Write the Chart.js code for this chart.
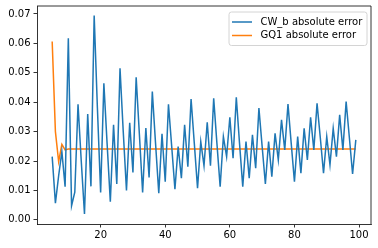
<!DOCTYPE html>
<html>
<head>
<meta charset="utf-8">
<script src="https://cdn.jsdelivr.net/npm/chart.js@4"></script>
<style>
html,body{margin:0;padding:0;background:#fff;}
#wrap{width:378px;height:248px;position:relative;}
</style>
</head>
<body>
<div id="wrap"><canvas id="c" width="378" height="248"></canvas></div>
<script>
const xValues = [5,6,7,8,9,10,11,12,13,14,15,16,17,18,19,20,21,22,23,24,25,26,27,28,29,30,31,32,33,34,35,36,37,38,39,40,41,42,43,44,45,46,47,48,49,50,51,52,53,54,55,56,57,58,59,60,61,62,63,64,65,66,67,68,69,70,71,72,73,74,75,76,77,78,79,80,81,82,83,84,85,86,87,88,89,90,91,92,93,94,95,96,97,98,99];
const cwbError = [0.0215,0.0057,0.0150,0.0232,0.0113,0.0617,0.0048,0.0094,0.0393,0.0200,
0.0020,0.0360,0.0114,0.0695,0.0380,0.0093,0.0464,0.0260,0.0062,0.0323,
0.0122,0.0515,0.0300,0.0100,0.0330,0.0161,0.0485,0.0290,0.0093,0.0312,
0.0144,0.0436,0.0260,0.0091,0.0293,0.0130,0.0393,0.0250,0.0104,0.0249,
0.0142,0.0323,0.0181,0.0411,0.0260,0.0108,0.0266,0.0184,0.0332,0.0184,
0.0413,0.0260,0.0113,0.0283,0.0215,0.0349,0.0210,0.0417,0.0260,0.0113,
0.0266,0.0142,0.0289,0.0176,0.0380,0.0250,0.0122,0.0266,0.0147,0.0294,
0.0204,0.0340,0.0238,0.0394,0.0260,0.0130,0.0283,0.0159,0.0311,0.0204,
0.0349,0.0238,0.0396,0.0280,0.0159,0.0283,0.0187,0.0311,0.0215,0.0357,
0.0238,0.0402,0.0280,0.0156,0.0272];
const gq1Error = [0.0606,0.0300,0.0198,0.0257,0.0238,0.0241,0.0241,0.0241,0.0241,0.0241,
0.0241,0.0241,0.0241,0.0241,0.0241,0.0241,0.0241,0.0241,0.0241,0.0241,
0.0241,0.0241,0.0241,0.0241,0.0241,0.0241,0.0241,0.0241,0.0241,0.0241,
0.0241,0.0241,0.0241,0.0241,0.0241,0.0241,0.0241,0.0241,0.0241,0.0241,
0.0241,0.0241,0.0241,0.0241,0.0241,0.0241,0.0241,0.0241,0.0241,0.0241,
0.0241,0.0241,0.0241,0.0241,0.0241,0.0241,0.0241,0.0241,0.0241,0.0241,
0.0241,0.0241,0.0241,0.0241,0.0241,0.0241,0.0241,0.0241,0.0241,0.0241,
0.0241,0.0241,0.0241,0.0241,0.0241,0.0241,0.0241,0.0241,0.0241,0.0241,
0.0241,0.0241,0.0241,0.0241,0.0241,0.0241,0.0241,0.0241,0.0241,0.0241,
0.0241,0.0241,0.0241,0.0241,0.0241];
const seriesLabels = ['CW_b absolute error', 'GQ1 absolute error'];
const xTicks = [20, 40, 60, 80, 100];
const yTicks = [0.00, 0.01, 0.02, 0.03, 0.04, 0.05, 0.06, 0.07];

const FONT = 'DejaVu Sans';
Chart.defaults.font.family = FONT;
Chart.defaults.font.size = 10;
Chart.defaults.color = '#000';

const insideLegend = {
  id: 'insideLegend',
  afterDraw(chart) {
    const ctx = chart.ctx;
    const a = chart.chartArea;
    const w = 138, h = 33.5;
    const x0 = a.right - 4.5 - w, y0 = a.top + 5.5;
    ctx.save();
    ctx.beginPath();
    ctx.roundRect(x0 + 0.5, y0 + 0.5, w, h, 2.5);
    ctx.fillStyle = 'rgba(255,255,255,0.8)';
    ctx.fill();
    ctx.strokeStyle = '#d4d4d4';
    ctx.lineWidth = 1;
    ctx.stroke();
    ctx.font = '10px "' + FONT + '"';
    ctx.textBaseline = 'middle';
    chart.data.datasets.forEach((ds, i) => {
      const cy = y0 + 10.5 + i * 13.5;
      ctx.beginPath();
      ctx.moveTo(x0 + 3.5, cy);
      ctx.lineTo(x0 + 23.5, cy);
      ctx.strokeStyle = ds.borderColor;
      ctx.lineWidth = 1.5;
      ctx.stroke();
      ctx.fillStyle = '#000';
      ctx.fillText(ds.label, x0 + 32, cy);
    });
    ctx.restore();
  }
};

new Chart(document.getElementById('c'), {
  type: 'line',
  data: {
    datasets: [
      { label: seriesLabels[0], data: xValues.map((x, i) => ({x, y: cwbError[i]})),
        borderColor: '#1f77b4', borderWidth: 1.5, pointRadius: 0, tension: 0, fill: false },
      { label: seriesLabels[1], data: xValues.map((x, i) => ({x, y: gq1Error[i]})),
        borderColor: '#ff7f0e', borderWidth: 1.5, pointRadius: 0, tension: 0, fill: false }
    ]
  },
  options: {
    responsive: false,
    devicePixelRatio: 1,
    animation: false,
    layout: { padding: { top: 6, right: 7, left: 0, bottom: 0 } },
    plugins: { legend: { display: false }, tooltip: { enabled: false } },
    scales: {
      x: {
        type: 'linear', min: 0.3, max: 103.7,
        afterBuildTicks: s => { s.ticks = xTicks.map(v => ({value: v})); },
        afterFit: s => { s.height = 24; s.paddingLeft = 0; s.paddingRight = 0; s.paddingTop = 0; s.paddingBottom = 0; },
        grid: { display: true, drawOnChartArea: false, drawTicks: true, tickLength: 3.5, color: '#000', lineWidth: 0.8 },
        border: { display: true, color: '#000', width: 0.8 },
        ticks: { padding: 2, maxRotation: 0, autoSkip: false, callback: v => String(v) }
      },
      y: {
        type: 'linear', min: -0.0014, max: 0.0727,
        afterBuildTicks: s => { s.ticks = yTicks.map(v => ({value: v})); },
        afterFit: s => { s.width = 37; s.paddingLeft = 0; s.paddingRight = 0; s.paddingTop = 0; s.paddingBottom = 0; },
        grid: { display: true, drawOnChartArea: false, drawTicks: true, tickLength: 3.5, color: '#000', lineWidth: 0.8 },
        border: { display: true, color: '#000', width: 0.8 },
        ticks: { padding: 3, autoSkip: false, callback: v => Number(v).toFixed(2) }
      }
    }
  },
  plugins: [insideLegend, {
    id: 'frame',
    afterDatasetsDraw(chart) {
      const a = chart.chartArea, ctx = chart.ctx;
      ctx.save();
      ctx.strokeStyle = '#000';
      ctx.lineWidth = 0.8;
      ctx.beginPath();
      ctx.moveTo(a.left, a.top); ctx.lineTo(a.right, a.top); ctx.lineTo(a.right, a.bottom);
      ctx.stroke();
      ctx.restore();
    }
  }]
});
</script>
</body>
</html>
